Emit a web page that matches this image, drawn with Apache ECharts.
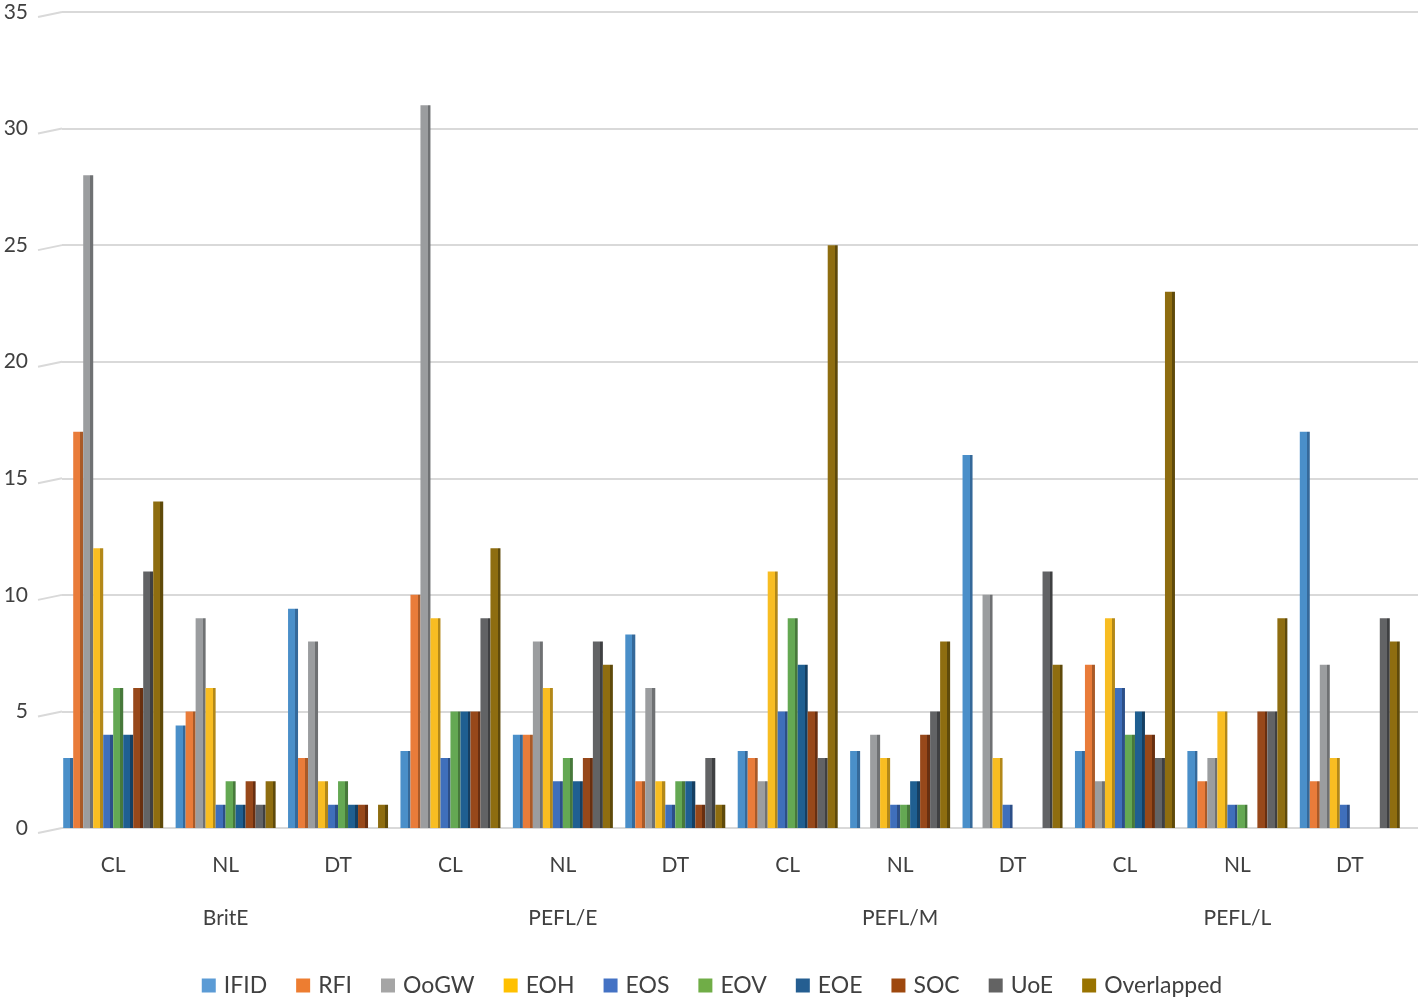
<!DOCTYPE html>
<html><head><meta charset="utf-8">
<script src="https://cdn.jsdelivr.net/npm/echarts@6/dist/echarts.min.js"></script>
<style>html,body{margin:0;padding:0;background:#fff}#c{width:1424px;height:999px}</style>
</head><body><div id="c"></div>
<script>
const subCategories = ['CL','NL','DT','CL','NL','DT','CL','NL','DT','CL','NL','DT'];
const groups = ['BritE','PEFL/E','PEFL/M','PEFL/L'];
const seriesNames = ['IFID','RFI','OoGW','EOH','EOS','EOV','EOE','SOC','UoE','Overlapped'];
const IFID       = [3, 4.4, 9.4, 3.3, 4, 8.3, 3.3, 3.3, 16, 3.3, 3.3, 17];
const RFI        = [17, 5, 3, 10, 4, 2, 3, 0, 0, 7, 2, 2];
const OoGW       = [28, 9, 8, 31, 8, 6, 2, 4, 10, 2, 3, 7];
const EOH        = [12, 6, 2, 9, 6, 2, 11, 3, 3, 9, 5, 3];
const EOS        = [4, 1, 1, 3, 2, 1, 5, 1, 1, 6, 1, 1];
const EOV        = [6, 2, 2, 5, 3, 2, 9, 1, 0, 4, 1, 0];
const EOE        = [4, 1, 1, 5, 2, 2, 7, 2, 0, 5, 0, 0];
const SOC        = [6, 2, 1, 5, 3, 1, 5, 4, 0, 4, 5, 0];
const UoE        = [11, 1, 0, 9, 8, 3, 3, 5, 11, 3, 5, 9];
const Overlapped = [14, 2, 1, 12, 7, 1, 25, 8, 7, 23, 9, 8];
const yMin = 0, yMax = 35, yStep = 5;

const values = [IFID, RFI, OoGW, EOH, EOS, EOV, EOE, SOC, UoE, Overlapped];
const legendColors = ['#5B9BD5','#ED7D31','#A5A5A5','#FFC000','#4472C4','#70AD47','#255E91','#9E480E','#636363','#997300'];
const frontColors  = ['#4a8fc9','#e97c3a','#9b9d9f','#f8bd22','#3f6fbb','#64a853','#1f5f91','#97481a','#626365','#8e6d10'];
const sideColors   = ['#35699a','#a95a28','#6f7173','#b38818','#2c4f88','#47793b','#153f62','#682f10','#3f4042','#5f4a0a'];

const font = 'Lato, "Open Sans", sans-serif';
const chart = echarts.init(document.getElementById('c'));
const series = seriesNames.map((n, i) => ({
  name: n, type: 'bar', xAxisIndex: 0, yAxisIndex: 1,
  data: values[i], barWidth: 10, barGap: '0%',
  itemStyle: {
    color: new echarts.graphic.LinearGradient(0, 0, 1, 0, [
      {offset: 0, color: frontColors[i]}, {offset: 0.72, color: frontColors[i]},
      {offset: 0.72, color: sideColors[i]}, {offset: 1, color: sideColors[i]}
    ])
  },
  emphasis: {disabled: true}, animation: false
}));

chart.setOption({
  animation: false,
  grid: [
    {left: 62, right: 6, top: 12, bottom: 171},
    {left: 57, right: 18, top: 12, bottom: 171}
  ],
  legend: {
    top: 969, left: 'center', itemWidth: 14, itemHeight: 14, itemGap: 29,
    icon: 'rect',
    textStyle: {fontFamily: font, fontSize: 23, color: '#404040', padding: [0,0,0,3]},
    data: seriesNames.map((n, i) => ({name: n, itemStyle: {color: legendColors[i]}}))
  },
  xAxis: [
    {type: 'category', gridIndex: 1, data: subCategories,
     axisLine: {show: false}, axisTick: {show: false},
     axisLabel: {fontFamily: font, fontSize: 21, color: '#404040', margin: 27}},
    {type: 'category', gridIndex: 1, data: groups, position: 'bottom', offset: 53,
     axisLine: {show: false}, axisTick: {show: false},
     axisLabel: {fontFamily: font, fontSize: 21, color: '#404040', margin: 27}},
    {type: 'category', gridIndex: 0, data: subCategories, show: false}
  ],
  yAxis: [
    {type: 'value', gridIndex: 0, min: yMin, max: yMax, interval: yStep,
     axisLine: {show: false}, axisTick: {show: false},
     axisLabel: {fontFamily: font, fontSize: 21, color: '#404040', margin: 34},
     splitLine: {lineStyle: {color: '#d9d9d9', width: 2}}},
    {type: 'value', gridIndex: 1, min: yMin, max: yMax, interval: yStep, show: false,
     splitLine: {show: false}}
  ],
  series: series
});

// slanted perspective ticks at the left end of each gridline
const ticks = [];
for (let v = yMin; v <= yMax; v += yStep) {
  const y = chart.convertToPixel({yAxisIndex: 0}, v);
  const x = chart.convertToPixel({xAxisIndex: 2}, 0) - (chart.convertToPixel({xAxisIndex: 2}, 1) - chart.convertToPixel({xAxisIndex: 2}, 0)) / 2;
  ticks.push({type: 'line', shape: {x1: x - 24, y1: y + 5, x2: x, y2: y},
    style: {stroke: '#d9d9d9', lineWidth: 2}, silent: true});
}
chart.setOption({graphic: ticks});
</script></body></html>
